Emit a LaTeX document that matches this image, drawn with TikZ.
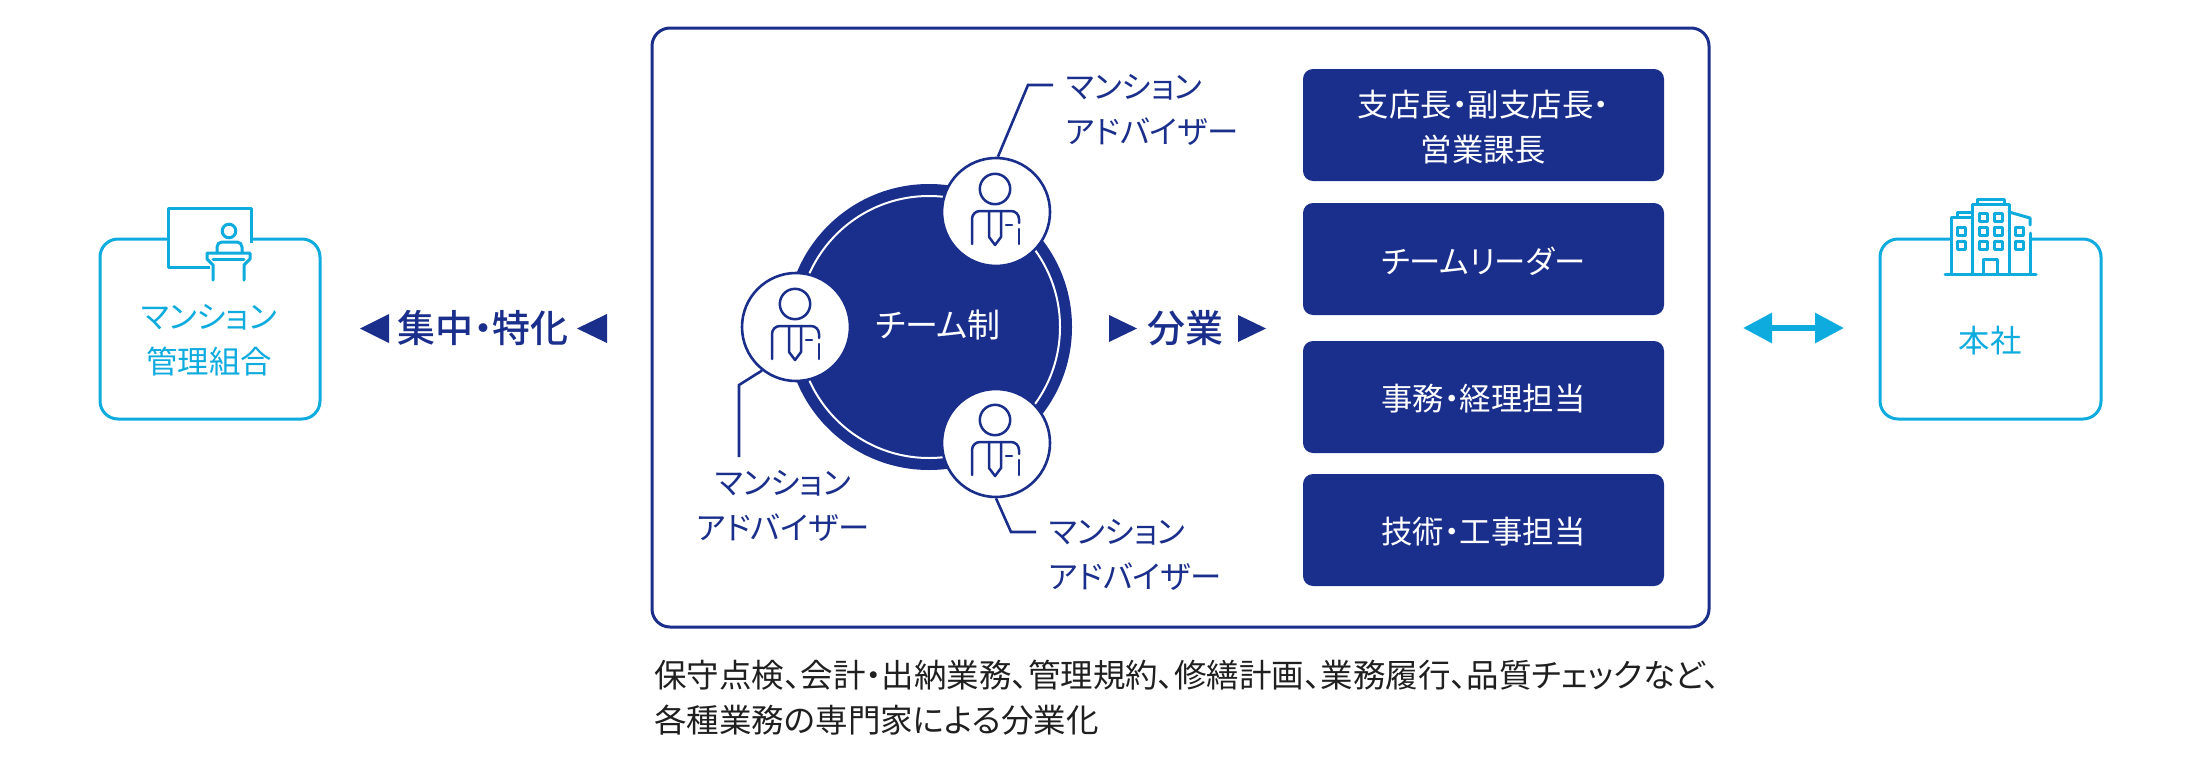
\documentclass[tikz,border=0pt]{standalone}
\usepackage{fontspec}
\setmainfont{Noto Sans CJK JP}[RawFeature={+palt}]
\newfontfamily\medfont{Noto Sans CJK JP Medium}[RawFeature={+palt}]
\usetikzlibrary{arrows.meta}
\definecolor{navy}{HTML}{1A2E8C}
\definecolor{cyanb}{HTML}{0EABDF}
\definecolor{inkk}{HTML}{1F1F1F}
\newcommand{\fs}[1]{\fontsize{#1}{22.5}\selectfont}
\tikzset{
  x=0.5pt,y=-0.5pt,
  cyanbox/.style={draw=cyanb,line width=1.5pt,rounded corners=9pt,fill=white},
  cyantext/.style={text=cyanb,align=center,font=\fs{15.7}},
  navytext/.style={text=navy,align=left,font=\fs{15.7},anchor=west},
  navybox/.style={fill=navy,rounded corners=5pt,minimum width=180.5pt,minimum height=56pt,inner sep=0pt},
  boxtext/.style={text=white,align=center,font=\fs{15.7},inner sep=0pt,yshift=-1pt},
  advcircle/.style={circle,draw=navy,line width=1.3pt,fill=white,minimum size=54pt,inner sep=0pt},
  leader/.style={draw=navy,line width=1.3pt},
  headline/.style={text=navy,font=\medfont\fs{19}},
  tri/.style={fill=navy},
  iconline/.style={draw=cyanb,line width=1.5pt,line join=round,line cap=round},
  personicon/.pic={
    \begin{scope}[draw=navy,line width=1.25pt,line cap=round,line join=round]
      \draw (-1,-23) circle (7.6pt);
      \draw[rounded corners=4pt] (-24,32) -- (-24,-1) -- (23,-1) -- (23,11);
      \draw (23,17) -- (23,32);
      \draw (-7,-1) -- (-7,25) -- (-1,33) -- (5,25) -- (5,-1);
      \draw (10,13) -- (16,13);
    \end{scope}
  }
}
\begin{document}
\begin{tikzpicture}
\useasboundingbox (0,0) rectangle (2200,760);
% left box
\draw[cyanbox] (100,239) rectangle (320,419);
\node[cyantext] (kumiai) at (209,340) {マンション\\管理組合};
\fill[white] (170,232) rectangle (250,246);
\draw[iconline,line cap=butt] (251,243) -- (251,208) -- (168,208) -- (168,267) -- (210,267);
\draw[iconline] (229,231) circle (3.4pt);
\draw[iconline,rounded corners=2.5pt] (217,252) -- (217,242) -- (242,242) -- (242,252);
\draw[iconline] (213,280) -- (213,265) -- (207,259) -- (207,253) -- (250,253) -- (250,259) -- (244,265) -- (244,280);
\draw[iconline] (213,259) -- (244,259);
% right box
\draw[cyanbox] (1880,239) rectangle (2101,419);
\node[cyantext] (honsha) at (1990,341) {本社};
\fill[white] (1951,232) rectangle (2031,246);
\draw[iconline] (1945,274) -- (2036,274);
\draw[iconline] (1972,274) -- (1972,204) -- (2009,204) -- (2009,274);
\draw[iconline] (1977,204) -- (1977,199) -- (2004,199) -- (2004,204);
\draw[iconline] (1972,217) -- (1951,217) -- (1951,274);
\draw[iconline] (1957,217) -- (1957,212) -- (1972,212);
\draw[iconline] (2009,212) -- (2030,218) -- (2030,225);
\draw[iconline] (2030,233) -- (2030,274);
\foreach \wx/\wy in {1983/217,1998/217,1983/231,1998/231,1983/245,1998/245,1961/231,1961/245,2019/231,2019/245}
  \draw[iconline] (\wx-4,\wy-4) rectangle (\wx+4,\wy+4);
\draw[iconline] (1983,274) -- (1983,259) -- (1997,259) -- (1997,274);
% double arrow
\coordinate (arrL) at (1743,328);
\coordinate (arrR) at (1844,328);
\draw[draw=cyanb,line width=3pt,{Triangle[length=14.5pt,width=14.5pt]}-{Triangle[length=14.5pt,width=14.5pt]}] (arrL) -- (arrR);
% main frame
\draw[draw=navy,line width=1.5pt,rounded corners=9pt] (652,28) rectangle (1709,627);
% team circle
\node[circle,fill=navy,minimum size=143pt,inner sep=0pt] (team) at (929,327) {};
\draw[white,line width=1pt] (team.center) circle (65.5pt);
\node[text=white,font=\fs{16.5}] (teamlabel) at (938,325) {チーム制};
% advisers
\node[advcircle] (adv1) at (996,212) {};
\node[advcircle] (adv2) at (796,327) {};
\node[advcircle] (adv3) at (996,443) {};
\path (adv1.center) pic {personicon};
\path (adv2.center) pic {personicon};
\path (adv3.center) pic {personicon};
% leaders
\coordinate (l1a) at (1028,85); \coordinate (l1b) at (1053,85);
\coordinate (l2a) at (739,385); \coordinate (l2b) at (739,457);
\coordinate (l3a) at (1011,532); \coordinate (l3b) at (1036,532);
\draw[leader] (adv1.88) -- (l1a) -- (l1b);
\draw[leader] (adv2.-128) -- (l2a) -- (l2b);
\draw[leader] (adv3.-90) -- (l3a) -- (l3b);
\node[navytext] (t1) at (1059,110) {マンション\\アドバイザー};
\node[navytext] (t3) at (1042,555) {マンション\\アドバイザー};
\node[text=navy,align=center,font=\fs{15.7}] (t2) at (783,506) {マンション\\アドバイザー};
% boxes
\node[navybox] (b1) at (1483.5,125) {};
\node[navybox] (b2) at (1483.5,259) {};
\node[navybox] (b3) at (1483.5,397) {};
\node[navybox] (b4) at (1483.5,530) {};
\node[boxtext] (b1t) at (b1) {支店長・副支店長・\\営業課長};
\node[boxtext] (b2t) at (b2) {チームリーダー};
\node[boxtext] (b3t) at (b3) {事務・経理担当};
\node[boxtext] (b4t) at (b4) {技術・工事担当};
% headings
\fill[tri] (389,314) -- (360,328.5) -- (389,343) -- cycle;
\node[headline] (shuchu) at (483,328) {集中・特化};
\fill[tri] (607,314) -- (577,328.5) -- (607,343) -- cycle;
\fill[tri] (1109,315) -- (1137,328.5) -- (1109,342) -- cycle;
\node[headline] (bungyo) at (1185,328) {分業};
\fill[tri] (1238,315) -- (1266,328.5) -- (1238,342) -- cycle;
% caption
\node[text=inkk,align=left,anchor=west,font=\fs{16.25},inner sep=0pt] (cap) at (654,698) {保守点検、会計・出納業務、管理規約、修繕計画、業務履行、品質チェックなど、\\各種業務の専門家による分業化};
\end{tikzpicture}
\end{document}
